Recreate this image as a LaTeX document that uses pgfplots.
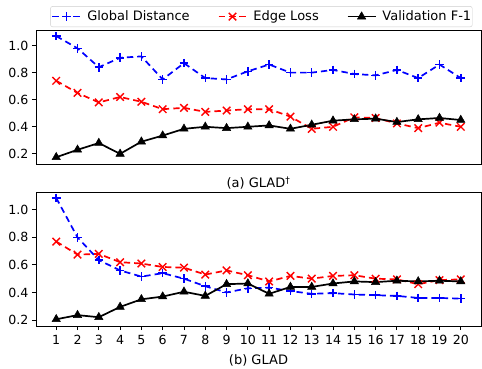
\documentclass[border=0pt]{standalone}
\usepackage{fontspec}
\setmainfont{DejaVu Sans}
\usepackage{pgfplots}
\pgfplotsset{compat=1.18}
\definecolor{leggray}{RGB}{204,204,204}
\newcommand{\fs}{\fontsize{13pt}{15.6pt}\selectfont}
\newcommand{\ft}{\fontsize{12.6pt}{15pt}\selectfont}
\pgfplotsset{
  base/.style={
    scale only axis, width=445pt, height=134pt,
    xmin=0.05, xmax=20.95,
    axis line style={line width=0.9pt},
    every tick/.style={line width=0.9pt, black},
    tick align=outside, major tick length=4pt,
    ytick={0.2,0.4,0.6,0.8,1.0},
    yticklabel style={/pgf/number format/.cd, fixed, fixed zerofill, precision=1},
    xticklabel style={yshift=-2pt},
    /pgf/number format/assume math mode=true,
    tick label style={font=\ft},
    xtick pos=bottom, ytick pos=left,
    legend image code/.code={\draw[mark repeat=2,mark phase=2,##1] plot coordinates {(0pt,0pt) (14pt,0pt) (28pt,0pt)};},
  },
  gd/.style={blue, line width=1.7pt, dash pattern=on 6.3pt off 4.1pt, mark=+, mark size=4.3pt, mark options={solid, line width=1.5pt}},
  el/.style={red, line width=1.7pt, dash pattern=on 6.3pt off 4.1pt, mark=x, mark size=5.3pt, mark options={solid, line width=1.4pt}},
  vf/.style={black, line width=1.7pt, solid, mark=triangle*, mark size=4.8pt, mark options={solid, line width=0.5pt}},
}
\begin{document}
\begin{tikzpicture}
\useasboundingbox (0,0) rectangle (482pt,368pt);
% top panel
\begin{axis}[base, at={(36pt,204pt)}, anchor=south west,
  ymin=0.125, ymax=1.115, xtick=\empty,
  xlabel={(a) GLAD\textsuperscript{\dag}},
  xlabel style={at={(axis description cs:0.5,0)}, anchor=center, yshift=-19pt, font=\fs},
  legend columns=3,
  legend style={at={(0.5065,1)}, anchor=south, yshift=3pt, font=\fs, draw=leggray, rounded corners=2pt,
    inner xsep=1pt, inner ysep=4.5pt,
    nodes={inner xsep=0pt, inner ysep=0pt},
    /tikz/every odd column/.append style={column sep=6pt},
    /tikz/every even column/.append style={column sep=28pt}},
  legend cell align=left]
\addplot[gd] coordinates {(1,1.07)(2,0.98)(3,0.84)(4,0.91)(5,0.92)(6,0.75)(7,0.87)(8,0.76)(9,0.75)(10,0.81)(11,0.86)(12,0.80)(13,0.80)(14,0.82)(15,0.79)(16,0.78)(17,0.82)(18,0.76)(19,0.86)(20,0.76)};
\addlegendentry{Global Distance}
\addplot[el] coordinates {(1,0.74)(2,0.65)(3,0.58)(4,0.62)(5,0.585)(6,0.53)(7,0.54)(8,0.51)(9,0.52)(10,0.53)(11,0.53)(12,0.475)(13,0.385)(14,0.40)(15,0.47)(16,0.465)(17,0.425)(18,0.39)(19,0.43)(20,0.40)};
\addlegendentry{Edge Loss}
\addplot[vf] coordinates {(1,0.175)(2,0.23)(3,0.28)(4,0.20)(5,0.29)(6,0.335)(7,0.385)(8,0.40)(9,0.39)(10,0.40)(11,0.41)(12,0.385)(13,0.415)(14,0.445)(15,0.455)(16,0.46)(17,0.435)(18,0.455)(19,0.465)(20,0.45)};
\addlegendentry{Validation F-1}
\end{axis}
% bottom panel
\begin{axis}[base, at={(36pt,42pt)}, anchor=south west,
  ymin=0.156, ymax=1.13, xtick={1,...,20},
  xlabel={(b) GLAD},
  xlabel style={at={(axis description cs:0.5,0)}, anchor=center, yshift=-34pt, font=\fs}]
\addplot[gd] coordinates {(1,1.087)(2,0.80)(3,0.635)(4,0.56)(5,0.515)(6,0.54)(7,0.50)(8,0.445)(9,0.40)(10,0.43)(11,0.435)(12,0.41)(13,0.39)(14,0.395)(15,0.385)(16,0.38)(17,0.375)(18,0.36)(19,0.36)(20,0.355)};
\addplot[el] coordinates {(1,0.77)(2,0.675)(3,0.68)(4,0.62)(5,0.61)(6,0.585)(7,0.58)(8,0.53)(9,0.56)(10,0.525)(11,0.48)(12,0.52)(13,0.50)(14,0.52)(15,0.525)(16,0.50)(17,0.495)(18,0.46)(19,0.49)(20,0.495)};
\addplot[vf] coordinates {(1,0.205)(2,0.235)(3,0.22)(4,0.295)(5,0.35)(6,0.37)(7,0.405)(8,0.375)(9,0.46)(10,0.465)(11,0.39)(12,0.44)(13,0.44)(14,0.465)(15,0.48)(16,0.475)(17,0.485)(18,0.48)(19,0.485)(20,0.48)};
\end{axis}
\end{tikzpicture}
\end{document}
